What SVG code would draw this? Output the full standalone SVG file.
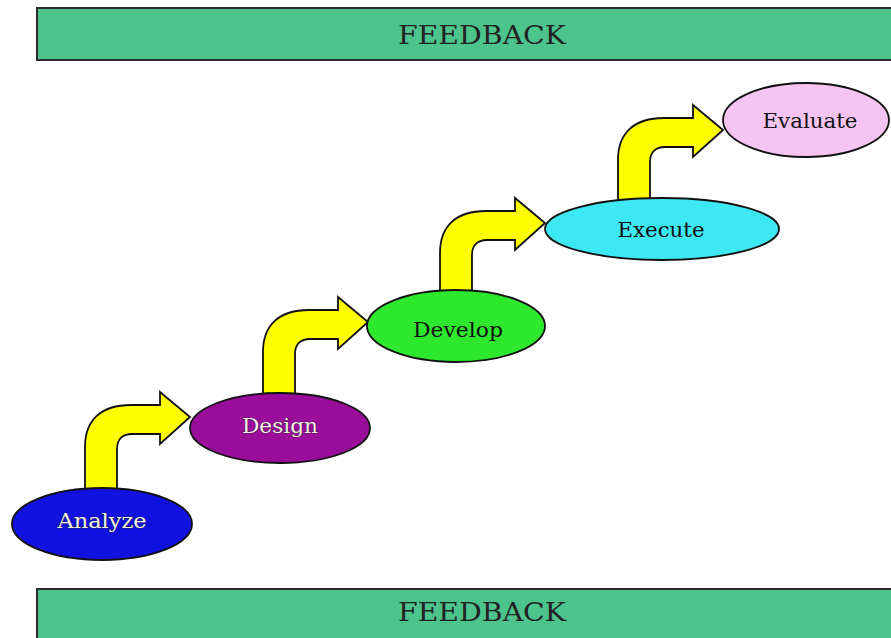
<svg xmlns="http://www.w3.org/2000/svg" xmlns:xlink="http://www.w3.org/1999/xlink" width="891" height="638" viewBox="0 0 891 638">
<style>
.bar{fill:#4dc48b;stroke:#2b2b2b;stroke-width:2}
.bartxt{font-family:"DejaVu Serif","Liberation Serif",serif;font-size:26px;fill:#222;text-anchor:middle}
.node{stroke:#111;stroke-width:1.8}
.lbl{font-family:"DejaVu Serif","Liberation Serif",serif;font-size:20px;text-anchor:middle;fill:#111}
.lbl.light{fill:#f4f2e6;stroke:#222;stroke-width:0.7;paint-order:stroke}
.arrow{fill:#ffff00;stroke:#111;stroke-width:1.8;stroke-linejoin:miter}
</style>
<defs>
<path id="bentArrow" d="M0,75 L0,30 C0,3 16,-12 46,-12 L75,-12 L75,-25 L105,0 L75,27 L75,17 L47,17 C38,17 32,22 32,32 L32,75 Z"/>
</defs>
<rect width="891" height="638" fill="#ffffff"/>
<g id="feedback-top">
<rect class="bar" x="37" y="8" width="880" height="52"/>
<text class="bartxt" x="482" y="44" textLength="168" lengthAdjust="spacingAndGlyphs">FEEDBACK</text>
</g>
<g id="feedback-bottom">
<rect class="bar" x="37" y="589" width="880" height="70"/>
<text class="bartxt" x="482" y="621" textLength="168" lengthAdjust="spacingAndGlyphs">FEEDBACK</text>
</g>
<g id="connectors">
<use xlink:href="#bentArrow" class="arrow" x="85" y="417"/>
<use xlink:href="#bentArrow" class="arrow" x="263" y="322"/>
<use xlink:href="#bentArrow" class="arrow" x="440" y="223"/>
<use xlink:href="#bentArrow" class="arrow" x="618" y="130"/>
</g>
<g id="analyze">
<ellipse class="node" cx="102" cy="524" rx="90" ry="36" fill="#1212e0"/>
<text class="lbl light" x="102" y="528" textLength="89" lengthAdjust="spacingAndGlyphs">Analyze</text>
</g>
<g id="design">
<ellipse class="node" cx="280" cy="428" rx="90" ry="35" fill="#9a0c9a"/>
<text class="lbl light" x="280" y="433" textLength="76" lengthAdjust="spacingAndGlyphs">Design</text>
</g>
<g id="develop">
<ellipse class="node" cx="456" cy="326" rx="89" ry="36" fill="#2ee82e"/>
<text class="lbl" x="458" y="337" textLength="90" lengthAdjust="spacingAndGlyphs">Develop</text>
</g>
<g id="execute">
<ellipse class="node" cx="662" cy="229" rx="117" ry="31" fill="#3ee8f2"/>
<text class="lbl" x="661" y="237" textLength="87" lengthAdjust="spacingAndGlyphs">Execute</text>
</g>
<g id="evaluate">
<ellipse class="node" cx="806" cy="120" rx="83" ry="37" fill="#f6c4f2"/>
<text class="lbl" x="810" y="128" textLength="95" lengthAdjust="spacingAndGlyphs">Evaluate</text>
</g>
</svg>
